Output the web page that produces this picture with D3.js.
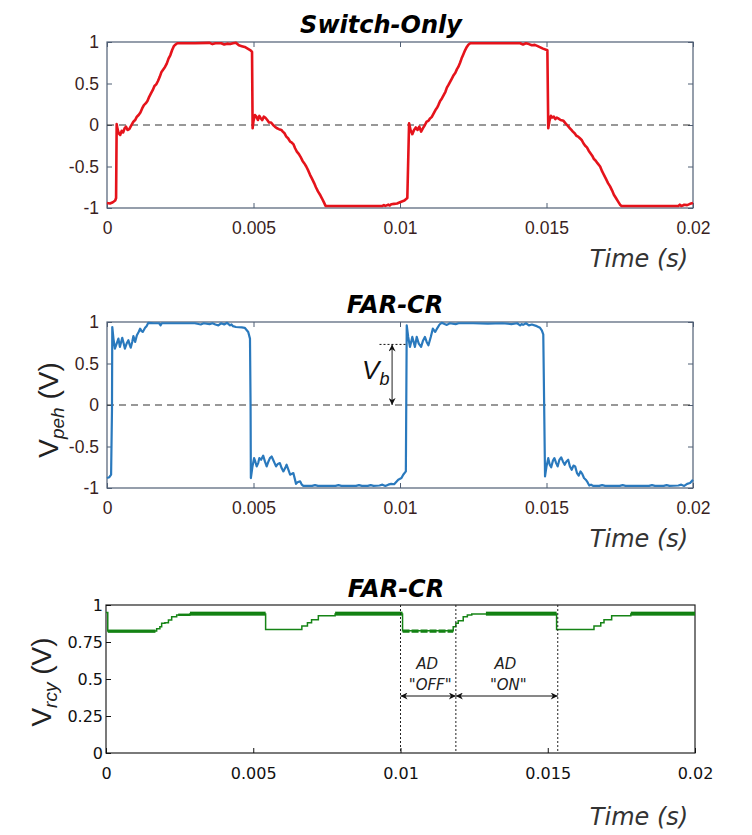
<!DOCTYPE html>
<html><head><meta charset="utf-8">
<script src="https://cdn.jsdelivr.net/npm/d3@7/dist/d3.min.js"></script>
<style>body{margin:0;background:#fff}</style>
</head><body><svg id="c" width="752" height="835"></svg>
<script>
// ---------------- DATA ----------------
const xTicks = [0, 0.005, 0.01, 0.015, 0.02];
const xTickLabels = ["0", "0.005", "0.01", "0.015", "0.02"];
const yTicksPm = [-1, -0.5, 0, 0.5, 1];
const yTickLabelsPm = ["-1", "-0.5", "0", "0.5", "1"];
const yTicksRcy = [0, 0.25, 0.5, 0.75, 1];
const yTickLabelsRcy = ["0", "0.25", "0.5", "0.75", "1"];
const titles = ["Switch-Only", "FAR-CR", "FAR-CR"];

// Switch-Only V_peh [time s, volts]
const switchOnly = [
[0,-0.94],[0.0001,-0.945],[0.0002,-0.93],[0.00028,-0.91],[0.00031,-0.88],[0.00033,0.01],[0.00036,-0.05],[0.0004,-0.10],[0.00045,-0.12],[0.0005,-0.07],[0.00055,-0.09],[0.0006,-0.04],[0.00065,-0.02],[0.0007,-0.06],[0.00076,-0.05],[0.00082,-0.01],[0.0009,0.04],[0.00096,0.06],[0.00102,0.10],[0.00108,0.12],[0.00114,0.15],[0.0012,0.20],[0.00126,0.24],[0.00132,0.26],[0.00138,0.29],[0.00144,0.34],[0.0015,0.38],[0.00156,0.42],[0.00162,0.47],[0.00168,0.49],[0.00174,0.53],[0.0018,0.58],[0.00186,0.64],[0.00192,0.67],[0.00198,0.70],[0.00204,0.74],[0.0021,0.80],[0.00216,0.84],[0.00222,0.90],[0.00228,0.95],[0.00234,0.97],[0.0024,0.985],[0.003,0.985],[0.0035,0.99],[0.0036,0.975],[0.0037,0.985],[0.0039,0.985],[0.004,0.97],[0.0041,0.98],[0.0042,0.975],[0.0043,0.985],[0.0044,0.99],[0.0045,0.96],[0.0046,0.95],[0.0047,0.94],[0.0048,0.92],[0.0049,0.90],[0.00495,0.88],[0.00497,-0.04],[0.005,0.05],[0.00505,0.12],[0.0051,0.10],[0.00515,0.06],[0.0052,0.11],[0.00525,0.08],[0.0053,0.06],[0.00535,0.10],[0.0054,0.09],[0.00547,0.06],[0.00553,0.03],[0.0056,0.03],[0.00567,0.0],[0.00573,-0.02],[0.0058,-0.04],[0.00587,-0.05],[0.00595,-0.06],[0.006,-0.08],[0.00606,-0.10],[0.00612,-0.14],[0.00618,-0.16],[0.00625,-0.20],[0.0063,-0.21],[0.00636,-0.23],[0.00642,-0.28],[0.00648,-0.32],[0.00655,-0.35],[0.0066,-0.38],[0.00667,-0.43],[0.00673,-0.46],[0.0068,-0.50],[0.00687,-0.55],[0.00693,-0.60],[0.007,-0.65],[0.00707,-0.70],[0.00713,-0.75],[0.0072,-0.80],[0.00727,-0.84],[0.00733,-0.88],[0.0074,-0.93],[0.00746,-0.975],[0.0094,-0.975],[0.00945,-0.965],[0.0095,-0.975],[0.0096,-0.96],[0.00965,-0.97],[0.0097,-0.955],[0.0098,-0.95],[0.0099,-0.945],[0.01,-0.93],[0.01015,-0.91],[0.01025,-0.88],[0.01031,0.02],[0.01036,-0.06],[0.01042,-0.11],[0.01048,-0.06],[0.01054,-0.03],[0.0106,-0.06],[0.01066,-0.02],[0.01072,-0.08],[0.01078,-0.04],[0.01085,0.0],[0.01091,0.04],[0.01097,0.05],[0.01103,0.08],[0.01109,0.10],[0.01115,0.14],[0.01121,0.18],[0.01127,0.21],[0.01131,0.24],[0.01137,0.29],[0.01143,0.32],[0.01149,0.36],[0.01155,0.40],[0.0116,0.45],[0.01165,0.48],[0.01171,0.52],[0.01177,0.56],[0.01183,0.60],[0.01189,0.63],[0.01194,0.67],[0.01199,0.70],[0.01205,0.75],[0.0121,0.80],[0.01216,0.85],[0.01222,0.90],[0.01228,0.94],[0.01234,0.97],[0.0124,0.985],[0.0141,0.985],[0.0142,0.97],[0.0143,0.985],[0.0144,0.975],[0.0145,0.96],[0.0146,0.965],[0.0147,0.95],[0.01488,0.92],[0.01503,0.90],[0.01506,-0.04],[0.0151,0.05],[0.01515,0.11],[0.0152,0.09],[0.01525,0.10],[0.0153,0.07],[0.01535,0.09],[0.0154,0.08],[0.01548,0.06],[0.01558,0.05],[0.01565,0.02],[0.0157,0.0],[0.01575,-0.02],[0.0158,-0.04],[0.01585,-0.06],[0.0159,-0.08],[0.01596,-0.10],[0.01602,-0.13],[0.01608,-0.14],[0.01614,-0.16],[0.0162,-0.18],[0.01626,-0.22],[0.01632,-0.25],[0.01638,-0.27],[0.01644,-0.31],[0.0165,-0.34],[0.01656,-0.37],[0.01662,-0.41],[0.01668,-0.43],[0.01674,-0.46],[0.01683,-0.50],[0.0169,-0.56],[0.01696,-0.60],[0.01703,-0.65],[0.0171,-0.70],[0.01717,-0.74],[0.01724,-0.79],[0.0173,-0.84],[0.01737,-0.88],[0.01744,-0.92],[0.01751,-0.96],[0.01756,-0.975],[0.0195,-0.975],[0.01955,-0.96],[0.0196,-0.975],[0.01965,-0.97],[0.0197,-0.96],[0.0198,-0.965],[0.0199,-0.95],[0.02,-0.94]
];

// FAR-CR V_peh [time s, volts]
const farcrPeh = [
[0,-0.88],[0.00008,-0.87],[0.00014,-0.84],[0.00017,-0.06],[0.00018,0.94],[0.00022,0.80],[0.00027,0.68],[0.00033,0.74],[0.00039,0.80],[0.00044,0.70],[0.00052,0.81],[0.00057,0.74],[0.00061,0.68],[0.00067,0.74],[0.00073,0.78],[0.00077,0.73],[0.00081,0.69],[0.00086,0.76],[0.0009,0.83],[0.00096,0.76],[0.00102,0.84],[0.00108,0.88],[0.00113,0.92],[0.00118,0.89],[0.00122,0.88],[0.0013,0.93],[0.00135,0.95],[0.00141,0.99],[0.0016,0.985],[0.00178,0.985],[0.00183,0.96],[0.00187,0.985],[0.003,0.985],[0.0032,0.97],[0.0033,0.985],[0.0035,0.975],[0.0036,0.985],[0.0037,0.97],[0.0038,0.96],[0.0039,0.985],[0.004,0.97],[0.0041,0.99],[0.0042,0.96],[0.00425,0.97],[0.0043,0.95],[0.0044,0.94],[0.0046,0.935],[0.0047,0.93],[0.00482,0.88],[0.00488,0.80],[0.0049,0.0],[0.00491,-0.88],[0.00496,-0.75],[0.00502,-0.64],[0.00506,-0.68],[0.00511,-0.74],[0.00516,-0.70],[0.0052,-0.64],[0.00526,-0.66],[0.00533,-0.61],[0.00539,-0.68],[0.00545,-0.74],[0.00551,-0.68],[0.00556,-0.64],[0.00562,-0.62],[0.00567,-0.66],[0.00572,-0.70],[0.00577,-0.74],[0.00583,-0.71],[0.0059,-0.70],[0.00596,-0.76],[0.00602,-0.80],[0.00608,-0.76],[0.00613,-0.72],[0.00619,-0.78],[0.00625,-0.84],[0.0063,-0.83],[0.00636,-0.82],[0.00641,-0.89],[0.00645,-0.95],[0.0065,-0.93],[0.00659,-0.92],[0.00665,-0.96],[0.0067,-0.975],[0.007,-0.975],[0.0071,-0.965],[0.0072,-0.975],[0.0078,-0.975],[0.0079,-0.965],[0.008,-0.975],[0.0085,-0.975],[0.0086,-0.965],[0.0087,-0.975],[0.0089,-0.975],[0.009,-0.965],[0.0091,-0.975],[0.0093,-0.97],[0.0094,-0.96],[0.0095,-0.975],[0.0096,-0.96],[0.0097,-0.95],[0.0098,-0.955],[0.00994,-0.90],[0.01005,-0.88],[0.01011,-0.84],[0.0102,-0.80],[0.01023,0.96],[0.01028,0.82],[0.01034,0.70],[0.01042,0.82],[0.01051,0.70],[0.01057,0.82],[0.01064,0.74],[0.01072,0.70],[0.01078,0.77],[0.01085,0.82],[0.01091,0.76],[0.01097,0.72],[0.01105,0.82],[0.01112,0.92],[0.0112,0.88],[0.01128,0.93],[0.01135,0.97],[0.01142,0.99],[0.0115,0.98],[0.0116,0.965],[0.0117,0.985],[0.0119,0.975],[0.012,0.985],[0.0125,0.985],[0.013,0.98],[0.0135,0.985],[0.0138,0.975],[0.014,0.985],[0.0141,0.96],[0.01415,0.975],[0.0142,0.965],[0.0143,0.985],[0.0144,0.96],[0.0145,0.97],[0.01467,0.95],[0.01478,0.93],[0.01484,0.90],[0.01489,0.85],[0.01492,0.0],[0.01495,-0.86],[0.015,-0.74],[0.01506,-0.64],[0.01511,-0.72],[0.01516,-0.75],[0.01522,-0.67],[0.01527,-0.64],[0.01533,-0.70],[0.01538,-0.74],[0.01544,-0.66],[0.0155,-0.63],[0.01556,-0.68],[0.01562,-0.72],[0.01568,-0.68],[0.01574,-0.66],[0.0158,-0.74],[0.01586,-0.78],[0.01592,-0.73],[0.01598,-0.74],[0.01604,-0.82],[0.0161,-0.85],[0.01616,-0.80],[0.01622,-0.83],[0.01628,-0.88],[0.01634,-0.90],[0.0164,-0.93],[0.01646,-0.97],[0.01652,-0.96],[0.0166,-0.975],[0.0168,-0.975],[0.0169,-0.965],[0.017,-0.975],[0.0175,-0.975],[0.0176,-0.965],[0.0177,-0.975],[0.0185,-0.975],[0.0186,-0.965],[0.0187,-0.975],[0.019,-0.975],[0.0191,-0.965],[0.0192,-0.975],[0.0195,-0.97],[0.0196,-0.96],[0.0197,-0.975],[0.0198,-0.95],[0.0199,-0.94],[0.02,-0.90]
];

// FAR-CR V_rcy step series
const rcyT = [0, 0.00006, 0.00172, 0.00183, 0.00189, 0.002, 0.00212, 0.00223, 0.0024, 0.00285, 0.00542, 0.00665, 0.00684, 0.00698, 0.00721, 0.00778, 0.01007, 0.01179, 0.01188, 0.01196, 0.01213, 0.01227, 0.01242, 0.01293, 0.0153, 0.01657, 0.0168, 0.01691, 0.01717, 0.01782, 0.02];
const rcyV = [0.95, 0.825, 0.84, 0.853, 0.876, 0.88, 0.899, 0.921, 0.932, 0.94, 0.834, 0.858, 0.88, 0.90, 0.928, 0.94, 0.826, 0.853, 0.876, 0.894, 0.92, 0.932, 0.94, 0.94, 0.834, 0.858, 0.88, 0.90, 0.928, 0.94, 0.94];
// dense switching (dither) bands
const ditherStart = [0.00006, 0.00245, 0.00285, 0.00778, 0.01007, 0.0129, 0.01782];
const ditherEnd   = [0.00168, 0.00285, 0.00542, 0.01007, 0.01179, 0.0153, 0.02];
const ditherLow   = [0.812, 0.926, 0.928, 0.928, 0.812, 0.928, 0.928];
const ditherHigh  = [0.834, 0.942, 0.955, 0.955, 0.834, 0.955, 0.955];
const ditherDashed = [false, false, false, false, true, false, false];

// annotations
const adMarkers = [0.01, 0.01188, 0.01534];
const adLabels = [["AD", "\"OFF\""], ["AD", "\"ON\""]];
const vbLevel = 0.73, vbTime = 0.00973, vbLineStart = 0.0093, vbLineEnd = 0.01025;

// ---------------- DRAW ----------------
const svg = d3.select("#c");
svg.append("rect").attr("width", 752).attr("height", 835).attr("fill", "#fff");

const defs = svg.append("defs");
defs.append("marker").attr("id", "ah").attr("viewBox", "0 0 10 10").attr("refX", 10).attr("refY", 5)
  .attr("markerWidth", 8).attr("markerHeight", 7).attr("markerUnits", "userSpaceOnUse").attr("orient", "auto-start-reverse")
  .append("path").attr("d", "M0,0 L10,5 L0,10 L3,5 Z").attr("fill", "#111");

const frameCol = "#4f5e74";
const lblCol = "#3a1e22";
const xA = d3.scaleLinear().domain([0, 0.02]).range([107, 693]);
const yTop = d3.scaleLinear().domain([-1, 1]).range([208, 42]);
const yMid = d3.scaleLinear().domain([-1, 1]).range([488, 322]);
const xB = d3.scaleLinear().domain([0, 0.02]).range([106, 695]);
const yB = d3.scaleLinear().domain([0, 1]).range([753, 605]);

function styleAxis(g, col, fam, size, tcol) {
  g.select(".domain").remove();
  g.selectAll("line").attr("stroke", col).attr("stroke-width", 1);
  g.selectAll("text").attr("font-family", fam).attr("font-size", size).attr("fill", tcol);
}

function bipolarPanel(y, data, color, width, title, titleBase, titleX, timeBase) {
  const [y0, y1] = y.range();
  svg.append("rect").attr("x", xA(0)).attr("y", y1).attr("width", xA(0.02) - xA(0)).attr("height", y0 - y1)
    .attr("fill", "#fff").attr("stroke", frameCol).attr("stroke-width", 1.2);
  const fam = "'Liberation Sans', Arial, sans-serif";
  styleAxis(svg.append("g").attr("transform", `translate(0,${y0})`)
    .call(d3.axisBottom(xA).tickValues(xTicks).tickFormat((d, i) => xTickLabels[i]).tickSize(-5).tickPadding(14)), frameCol, fam, "17.5px", lblCol);
  styleAxis(svg.append("g").attr("transform", `translate(0,${y1})`)
    .call(d3.axisTop(xA).tickValues(xTicks).tickFormat("").tickSize(-5)), frameCol, fam, "17px", lblCol);
  styleAxis(svg.append("g").attr("transform", `translate(${xA(0)},0)`)
    .call(d3.axisLeft(y).tickValues(yTicksPm).tickFormat((d, i) => yTickLabelsPm[i]).tickSize(-5).tickPadding(8)), frameCol, fam, "17.5px", lblCol);
  styleAxis(svg.append("g").attr("transform", `translate(${xA(0.02)},0)`)
    .call(d3.axisRight(y).tickValues(yTicksPm).tickFormat("").tickSize(-5)), frameCol, fam, "17px", lblCol);
  svg.append("line").attr("x1", xA(0)).attr("x2", xA(0.02)).attr("y1", y(0)).attr("y2", y(0))
    .attr("stroke", "#333").attr("stroke-width", 1.2).attr("stroke-dasharray", "7,5");
  svg.append("path").datum(data).attr("fill", "none").attr("stroke", color).attr("stroke-width", width)
    .attr("stroke-linejoin", "round")
    .attr("d", d3.line().x(d => xA(d[0])).y(d => y(d[1])));
  svg.append("text").attr("x", titleX).attr("y", titleBase).attr("text-anchor", "middle")
    .attr("font-family", "'DejaVu Sans', Verdana, sans-serif").attr("font-weight", "bold").attr("font-style", "italic")
    .attr("font-size", "24px").attr("fill", "#000").text(title);
  svg.append("text").attr("x", 639).attr("y", timeBase).attr("text-anchor", "middle")
    .attr("font-family", "'DejaVu Sans', Verdana, sans-serif").attr("font-style", "italic")
    .attr("font-size", "24px").attr("fill", "#333").text("Time (s)");
}

bipolarPanel(yTop, switchOnly, "#e5131b", 2.6, titles[0], 33, 381, 267);
bipolarPanel(yMid, farcrPeh, "#2a79bd", 2.2, titles[1], 313, 395, 547);

function yLabel(x, yc, sub) {
  const t = svg.append("text").attr("transform", `translate(${x},${yc}) rotate(-90)`).attr("text-anchor", "middle")
    .attr("font-family", "'Liberation Sans', Arial, sans-serif").attr("font-size", "28px").attr("fill", "#222");
  t.append("tspan").text("V");
  t.append("tspan").attr("font-size", "19px").attr("font-style", "italic").attr("dy", "6").text(sub);
  t.append("tspan").attr("dy", "-6").text(" (V)");
}
yLabel(58, 410, "peh");

// Vb annotation
svg.append("line").attr("x1", xA(vbLineStart)).attr("x2", xA(vbLineEnd)).attr("y1", yMid(vbLevel)).attr("y2", yMid(vbLevel))
  .attr("stroke", "#111").attr("stroke-width", 1).attr("stroke-dasharray", "2,2");
svg.append("line").attr("x1", xA(vbTime)).attr("x2", xA(vbTime)).attr("y1", yMid(vbLevel)).attr("y2", yMid(0))
  .attr("stroke", "#222").attr("stroke-width", 1).attr("marker-start", "url(#ah)").attr("marker-end", "url(#ah)");
const vb = svg.append("text").attr("x", xA(vbTime) - 30).attr("y", 379)
  .attr("font-family", "'Liberation Sans', Arial, sans-serif").attr("font-style", "italic").attr("font-size", "26px").attr("fill", "#111");
vb.append("tspan").text("V");
vb.append("tspan").attr("font-size", "18px").attr("dy", "6").text("b");

// ---------------- bottom panel ----------------
svg.append("rect").attr("x", xB(0)).attr("y", yB(1)).attr("width", xB(0.02) - xB(0)).attr("height", yB(0) - yB(1))
  .attr("fill", "#fff").attr("stroke", "#222").attr("stroke-width", 1.2);
const famB = "'DejaVu Sans', Verdana, sans-serif";
styleAxis(svg.append("g").attr("transform", `translate(0,${yB(0)})`)
  .call(d3.axisBottom(xB).tickValues(xTicks).tickFormat((d, i) => xTickLabels[i]).tickSize(-5).tickPadding(15)), "#111", famB, "16px", "#111");
styleAxis(svg.append("g").attr("transform", `translate(${xB(0)},0)`)
  .call(d3.axisLeft(yB).tickValues(yTicksRcy).tickFormat((d, i) => yTickLabelsRcy[i]).tickSize(-5).tickPadding(3)), "#111", famB, "16px", "#111");

ditherStart.forEach((s, i) => {
  if (ditherDashed[i]) {
    svg.append("line").attr("x1", xB(s)).attr("x2", xB(ditherEnd[i]))
      .attr("y1", (yB(ditherLow[i]) + yB(ditherHigh[i])) / 2).attr("y2", (yB(ditherLow[i]) + yB(ditherHigh[i])) / 2)
      .attr("stroke", "#0f7f0f").attr("stroke-width", yB(ditherLow[i]) - yB(ditherHigh[i])).attr("stroke-dasharray", "7,2");
  } else {
    svg.append("rect").attr("x", xB(s)).attr("width", xB(ditherEnd[i]) - xB(s))
      .attr("y", yB(ditherHigh[i])).attr("height", yB(ditherLow[i]) - yB(ditherHigh[i])).attr("fill", "#0f7f0f");
  }
});
svg.append("path").datum(rcyT.map((t, i) => [t, rcyV[i]])).attr("fill", "none").attr("stroke", "#168416").attr("stroke-width", 1.5)
  .attr("d", d3.line().curve(d3.curveStepAfter).x(d => xB(d[0])).y(d => yB(d[1])));

adMarkers.forEach(t => {
  svg.append("line").attr("x1", xB(t)).attr("x2", xB(t)).attr("y1", yB(1)).attr("y2", yB(0))
    .attr("stroke", "#222").attr("stroke-width", 1).attr("stroke-dasharray", "2,2");
});
const arrowY = 696;
for (let i = 0; i < 2; i++) {
  const a = xB(adMarkers[i]), b = xB(adMarkers[i + 1]);
  svg.append("line").attr("x1", a).attr("x2", b).attr("y1", arrowY).attr("y2", arrowY)
    .attr("stroke", "#111").attr("stroke-width", 1).attr("marker-start", "url(#ah)").attr("marker-end", "url(#ah)");
  const cx = (a + b) / 2 + (i === 0 ? 0 : -0.5);
  [669, 690].forEach((yy, j) => {
    svg.append("text").attr("x", cx + (j === 1 ? 2 : -1)).attr("y", yy).attr("text-anchor", "middle")
      .attr("font-family", famB).attr("font-style", "italic").attr("font-size", "15px").attr("fill", "#222").text(adLabels[i][j]);
  });
}

svg.append("text").attr("x", 396).attr("y", 597).attr("text-anchor", "middle")
  .attr("font-family", famB).attr("font-weight", "bold").attr("font-style", "italic").attr("font-size", "24px").attr("fill", "#000").text(titles[2]);
svg.append("text").attr("x", 639).attr("y", 825).attr("text-anchor", "middle")
  .attr("font-family", famB).attr("font-style", "italic").attr("font-size", "24px").attr("fill", "#333").text("Time (s)");
yLabel(51, 682, "rcy");
</script>
</body></html>
